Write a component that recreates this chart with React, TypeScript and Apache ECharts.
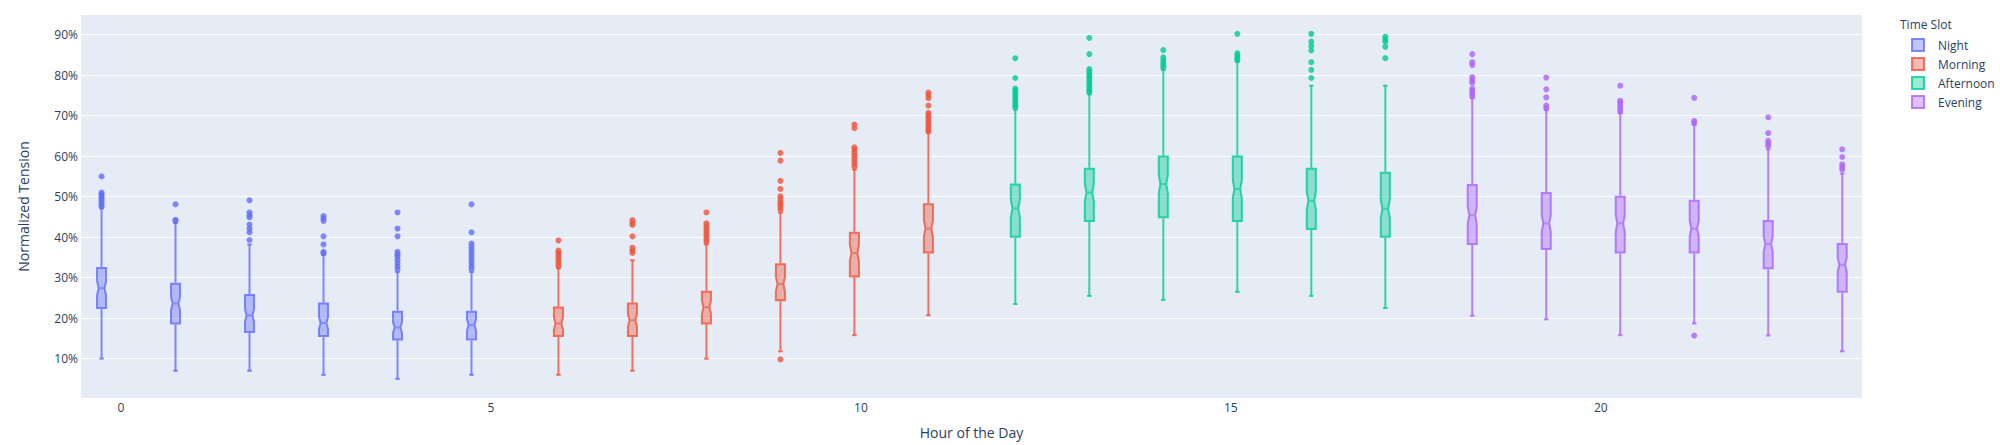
import { useEffect, useRef } from "react";
import * as echarts from "echarts";

// ---------------- data (values in %) ----------------
const hours = [0, 1, 2, 3, 4, 5, 6, 7, 8, 9, 10, 11, 12, 13, 14, 15, 16, 17, 18, 19, 20, 21, 22, 23];
const slotNames = ["Night", "Morning", "Afternoon", "Evening"];
const slotColors = ["#636efa", "#EF553B", "#00cc96", "#ab63fa"];
const slotOfHour = [0, 0, 0, 0, 0, 0, 1, 1, 1, 1, 1, 1, 2, 2, 2, 2, 2, 2, 3, 3, 3, 3, 3, 3];

const lowerWhisker = [10, 7, 7, 6, 5, 6, 6, 7, 10, 11.8, 15.8, 20.7, 23.5, 25.5, 24.5, 26.5, 25.5, 22.5, 20.6, 19.7, 15.8, 18.7, 15.7, 11.8];
const q1 = [22.5, 18.7, 16.6, 15.6, 14.7, 14.7, 15.6, 15.6, 18.7, 24.4, 30.3, 36.2, 40.1, 44, 44.9, 44, 42, 40.1, 38.3, 37.1, 36.2, 36.2, 32.3, 26.5];
const median = [27.4, 23.6, 20.7, 18.8, 17.7, 18.3, 18.7, 19.5, 22.7, 28.4, 36.1, 42.1, 47.1, 51, 53.1, 51.9, 49, 47, 45.4, 43.4, 43.4, 42.1, 38.3, 33.2];
const q3 = [32.4, 28.5, 25.7, 23.6, 21.6, 21.6, 22.6, 23.6, 26.5, 33.3, 41.1, 48.1, 53, 56.9, 59.9, 59.9, 56.9, 55.9, 52.9, 50.9, 50, 49, 44, 38.3];
const upperWhisker = [47.1, 43.5, 38.2, 35.6, 31.4, 31.4, 32.3, 34.3, 38.2, 46, 56.7, 65.8, 71.5, 75.3, 81.3, 83.3, 77.4, 77.4, 74.3, 71.5, 70.6, 67.7, 61.7, 55.7];
const notchHalf = [1.8, 1.7, 1.6, 1.5, 1.4, 1.4, 1.5, 1.6, 1.6, 1.8, 2.0, 2.1, 2.2, 2.2, 2.3, 2.3, 2.2, 2.3, 2.2, 2.1, 2.1, 2.0, 1.9, 1.8];
const outliers: number[][] = [
  [55, 51, 50.5, 50, 49.5, 49, 48.5, 48, 47.6],
  [48.1, 44.3, 44],
  [49.1, 46.1, 45.4, 44.9, 43.1, 42.1, 41.2, 39.3],
  [45.2, 44.6, 44.0, 40.2, 38.2, 36.4, 36],
  [46.1, 42.1, 40.2, 36.4, 35.8, 35.2, 34.4, 33.6, 32.8, 32.1],
  [48.1, 41.2, 38.4, 37.6, 36.8, 36, 35.2, 34.4, 33.6, 32.8, 32.1],
  [39.2, 36.7, 36.1, 35.5, 34.9, 34.2, 33.5, 32.8],
  [44.2, 43.5, 43, 40.2, 37.4, 36.7, 36.1],
  [46.1, 43.4, 42.7, 42, 41.4, 40.7, 40.1, 39.4, 38.8],
  [60.8, 58.9, 53.9, 51.9, 50.1, 49.4, 48.7, 48.1, 47.4, 46.7, 9.8],
  [67.8, 66.9, 62.2, 61.6, 60.9, 60.2, 59.5, 58.8, 58.1, 57.4],
  [75.7, 75.0, 74.3, 72.5, 70.7, 70.0, 69.4, 68.7, 68.0, 67.4, 66.7, 66.1],
  [84.2, 79.3, 76.7, 76.1, 75.5, 74.9, 74.3, 73.7, 73.1, 72.5, 72],
  [89.2, 85.2, 81.5, 80.9, 80.3, 79.7, 79.1, 78.5, 77.9, 77.3, 76.7, 76.2, 75.7],
  [86.2, 84.4, 83.7, 83, 82.4, 81.8],
  [90.2, 85.4, 84.8, 84.2, 83.7],
  [90.2, 88.3, 87.2, 86.1, 83.2, 81.3, 79.3],
  [89.5, 88.8, 88.2, 87, 84.2],
  [85.2, 83.2, 82.5, 79.5, 78.8, 78.1, 76.7, 76.1, 75.4, 74.8],
  [79.4, 76.5, 74.5, 72.5, 71.8],
  [77.4, 73.7, 73.1, 72.4, 71.7, 71],
  [74.4, 68.7, 68.2, 15.7],
  [69.6, 65.7, 63.8, 63.1, 62.5],
  [61.7, 59.8, 58, 57.3, 56.7],
];
const yTicks = [10, 20, 30, 40, 50, 60, 70, 80, 90];
const xTicks = [0, 5, 10, 15, 20];

// ---------------- layout constants ----------------
const FONT = '"Open Sans", verdana, arial, sans-serif';
const TEXT = "#2a3f5f";
const slotOffsets = [-0.2625, -0.0875, 0.0875, 0.2625];
const BOX_HALF = 0.06125;
const NOTCH_NARROW = 0.65;
const TRACE_OPACITY = 0.8;

function alpha(hex: string, a: number) {
  const r = parseInt(hex.slice(1, 3), 16);
  const g = parseInt(hex.slice(3, 5), 16);
  const b = parseInt(hex.slice(5, 7), 16);
  return `rgba(${r},${g},${b},${a})`;
}

export default function App() {
  const ref = useRef<HTMLDivElement>(null);

  useEffect(() => {
    document.body.style.margin = "0";
    if (!ref.current) return;
    const chart = echarts.init(ref.current, undefined, { renderer: "svg" });

    const series: any[] = [];
    slotNames.forEach((name, s) => {
      const color = slotColors[s];
      const boxData = hours
        .filter((h) => slotOfHour[h] === s)
        .map((h) => [h + slotOffsets[s], lowerWhisker[h], q1[h], median[h], q3[h], upperWhisker[h], notchHalf[h]]);
      series.push({
        type: "custom",
        name,
        data: boxData,
        encode: { x: 0, y: [1, 2, 3, 4, 5] },
        z: 2,
        renderItem: (_params: any, api: any) => {
          const x = api.value(0);
          const lw = api.value(1);
          const a = api.value(2);
          const m = api.value(3);
          const b = api.value(4);
          const uw = api.value(5);
          const n = api.value(6);
          const c = api.coord([x, m]);
          const left = api.coord([x - BOX_HALF, m])[0];
          const right = api.coord([x + BOX_HALF, m])[0];
          const hw = (right - left) / 2;
          const cx = c[0];
          const yq1 = api.coord([x, a])[1];
          const yq3 = api.coord([x, b])[1];
          const ym = c[1];
          const yln = api.coord([x, m - n])[1];
          const yun = api.coord([x, m + n])[1];
          const ylw = api.coord([x, lw])[1];
          const yuw = api.coord([x, uw])[1];
          const nw = hw * NOTCH_NARROW;
          const cw = hw * 0.5;
          const lineStyle = { stroke: color, lineWidth: 2, fill: null, opacity: TRACE_OPACITY };
          return {
            type: "group",
            children: [
              { type: "line", shape: { x1: cx, y1: yq3 - 1, x2: cx, y2: yuw }, style: lineStyle },
              { type: "line", shape: { x1: cx, y1: yq1 + 1, x2: cx, y2: ylw }, style: lineStyle },
              { type: "line", shape: { x1: cx - cw, y1: yuw, x2: cx + cw, y2: yuw }, style: lineStyle },
              { type: "line", shape: { x1: cx - cw, y1: ylw, x2: cx + cw, y2: ylw }, style: lineStyle },
              {
                type: "polygon",
                shape: {
                  points: [
                    [cx - hw, yq1],
                    [cx - hw, yln],
                    [cx - nw, ym],
                    [cx - hw, yun],
                    [cx - hw, yq3],
                    [cx + hw, yq3],
                    [cx + hw, yun],
                    [cx + nw, ym],
                    [cx + hw, yln],
                    [cx + hw, yq1],
                  ],
                },
                style: { fill: alpha(color, 0.5), stroke: color, lineWidth: 2, opacity: TRACE_OPACITY },
              },
              {
                type: "line",
                shape: { x1: cx - nw + 1, y1: ym, x2: cx + nw - 1, y2: ym },
                style: { ...lineStyle, opacity: 0.6 },
              },
            ],
          };
        },
      });
      const pts: number[][] = [];
      hours
        .filter((h) => slotOfHour[h] === s)
        .forEach((h) => outliers[h].forEach((v) => pts.push([h + slotOffsets[s], v])));
      series.push({
        type: "scatter",
        name,
        data: pts,
        symbol: "circle",
        symbolSize: 6,
        itemStyle: { color, opacity: TRACE_OPACITY },
        z: 3,
        silent: true,
      });
    });

    const legendX = 1911;
    const legendGraphics: any[] = [
      {
        type: "text",
        left: 1900,
        top: 18,
        style: { text: "Time Slot", font: `12px ${FONT}`, fill: TEXT },
      },
    ];
    slotNames.forEach((name, i) => {
      const cy = 45 + i * 19;
      legendGraphics.push({
        type: "rect",
        shape: { x: legendX + 1, y: cy - 6, width: 12, height: 12 },
        style: { fill: alpha(slotColors[i], 0.5), stroke: slotColors[i], lineWidth: 2, opacity: TRACE_OPACITY },
      });
      legendGraphics.push({
        type: "text",
        x: 1938,
        y: cy,
        style: { text: name, font: `12px ${FONT}`, fill: TEXT, textVerticalAlign: "middle", verticalAlign: "middle" },
      });
    });

    chart.setOption({
      animation: false,
      backgroundColor: "#ffffff",
      textStyle: { fontFamily: FONT },
      grid: {
        left: 81,
        top: 15,
        right: 138,
        bottom: 47,
        show: true,
        backgroundColor: "#E5ECF6",
        borderWidth: 0,
        containLabel: false,
      },
      xAxis: {
        type: "value",
        min: -0.54,
        max: 23.53,
        name: "Hour of the Day",
        nameLocation: "middle",
        nameGap: 27,
        nameTextStyle: { fontSize: 14, color: TEXT, fontFamily: FONT },
        axisLine: { show: false },
        axisTick: { show: false, customValues: xTicks },
        splitLine: { show: false },
        axisLabel: {
          customValues: xTicks,
          fontSize: 12,
          color: TEXT,
          fontFamily: FONT,
          margin: 3,
        },
      },
      yAxis: {
        type: "value",
        min: 0.28,
        max: 94.86,
        name: "Normalized Tension",
        nameLocation: "middle",
        nameGap: 51,
        nameTextStyle: { fontSize: 14, color: TEXT, fontFamily: FONT },
        axisLine: { show: false },
        axisTick: { show: false, customValues: yTicks },
        splitLine: { show: true, lineStyle: { color: "#ffffff", width: 1 } },
        axisLabel: {
          customValues: yTicks,
          formatter: (v: number) => `${Math.round(v)}%`,
          fontSize: 12,
          color: TEXT,
          fontFamily: FONT,
          margin: 3,
        },
      },
      graphic: legendGraphics,
      series,
    });

    return () => chart.dispose();
  }, []);

  return <div ref={ref} style={{ width: 2000, height: 445 }} />;
}
